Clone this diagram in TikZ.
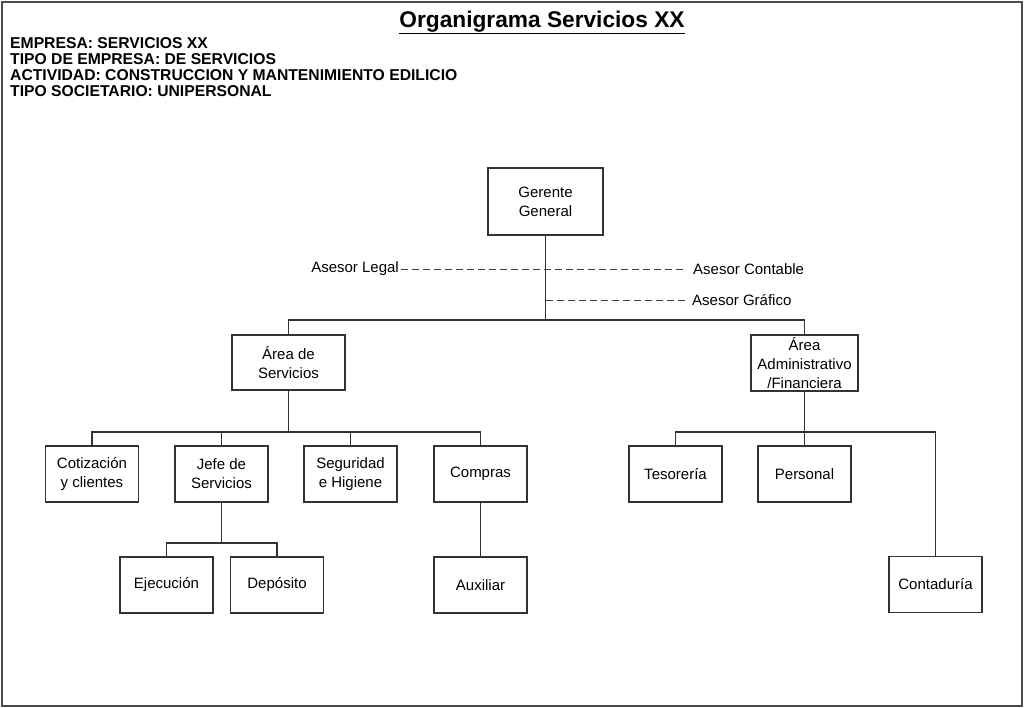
\documentclass[tikz,border=0pt]{standalone}
\usepackage{fontspec}
\setmainfont{Liberation Sans}

\tikzset{
  box/.style={draw=black!80, line width=1.1pt, inner sep=0pt, minimum width=93pt, minimum height=56pt, align=center, font=\fontsize{15}{19}\selectfont},
  link/.style={draw=black!80, line width=1.1pt},
  advice/.style={draw=black!75, line width=0.9pt, dash pattern=on 7pt off 4pt},
  advisor/.style={inner sep=2pt, font=\fontsize{15}{19}\selectfont},
  head/.style={anchor=base west, inner sep=0pt, font=\fontsize{15.7}{16}\selectfont\bfseries}
}

\begin{document}
\begin{tikzpicture}[x=1pt, y=-1pt]
      \useasboundingbox (0,0) rectangle (1025,707);
      \draw[black!70, line width=1.5pt] (2,2) rectangle (1022,706);

      % title and company data
      \node[anchor=base, inner sep=0pt, font=\fontsize{22.7}{26}\selectfont\bfseries] (title) at (542,27) {\underline{Organigrama Servicios XX}};
      \node[head] (h1) at (10,48) {EMPRESA: SERVICIOS XX};
      \node[head] (h2) at (10,64) {TIPO DE EMPRESA: DE SERVICIOS};
      \node[head] (h3) at (10,80) {ACTIVIDAD: CONSTRUCCION Y MANTENIMIENTO EDILICIO};
      \node[head] (h4) at (10,96) {TIPO SOCIETARIO: UNIPERSONAL};

      % boxes
      \node[box, minimum width=115pt, minimum height=67pt] (gg) at (545.5,201.5) {Gerente\\General};
      \node[box, minimum width=113pt, minimum height=55pt] (as) at (288.5,362.5) {Área de\\Servicios};
      \node[box, minimum width=107pt] (aa) at (804.5,363) {Área\\Administrativo\\/Financiera};
      \node[box] (cot) at (92,474) {Cotización\\y clientes};
      \node[box] (jefe) at (221.5,474) {Jefe de\\Servicios};
      \node[box] (seg) at (350.5,474) {Seguridad\\e Higiene};
      \node[box] (comp) at (480.5,474) {Compras};
      \node[box] (tes) at (675.5,474) {Tesorería};
      \node[box] (pers) at (804.5,474) {Personal};
      \node[box] (cont) at (935.5,584.5) {Contaduría};
      \node[box] (ejec) at (166.5,585) {Ejecución};
      \node[box] (dep) at (277,585) {Depósito};
      \node[box] (aux) at (480.5,585) {Auxiliar};

      % advisors
      \node[advisor, anchor=east] (legal) at (401,269) {Asesor Legal};
      \node[advisor, anchor=west] (contable) at (691,269) {Asesor Contable};
      \node[advisor, anchor=west] (grafico) at (690,300) {Asesor Gráfico};
      \coordinate (g) at (545.5,300);

      \coordinate (bus0) at (545.5,320);
      \coordinate (bus1) at (288.5,432);
      \coordinate (bus2) at (804.5,432);
      \coordinate (bus3) at (221.5,543);

      \draw[link] (gg) -- (bus0);
      \draw[link] (as.north) |- (bus0) -| (aa.north);
      \draw[advice, shorten >=6pt] (legal.east) -- (contable.west);
      \draw[advice, shorten >=3pt] (g) -- (grafico.west);

      \draw[link] (as) -- (bus1);
      \draw[link] (cot.north) |- (bus1) -| (comp.north);
      \draw[link] (jefe.north) -- (jefe.north |- bus1);
      \draw[link] (seg.north) -- (seg.north |- bus1);

      \draw[link] (aa) -- (pers);
      \draw[link] (tes.north) |- (bus2) -| (cont.north);

      \draw[link] (jefe) -- (bus3);
      \draw[link] (ejec.north) |- (bus3) -| (dep.north);
      \draw[link] (comp) -- (aux);
    \end{tikzpicture}
\end{document}
